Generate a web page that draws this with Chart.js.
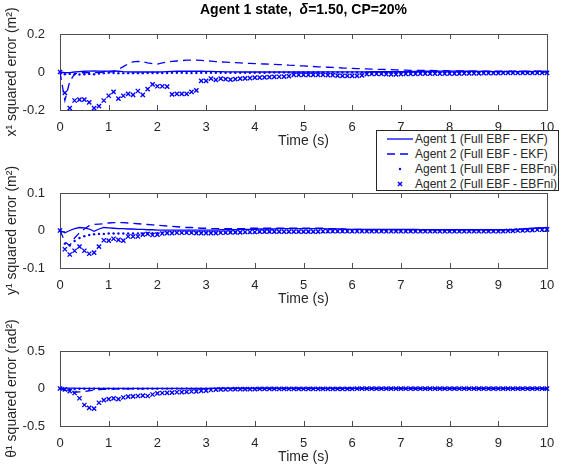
<!DOCTYPE html>
<html>

<head>
    <meta charset="utf-8" />
    <title>Agent 1 state</title>
    <style>
        body { margin: 0; background: #fff; }
        #fig { position: relative; width: 561px; height: 472px; font-family: 'Liberation Sans', Arial, sans-serif; }
        #fig canvas { position: absolute; left: 0; }
        #titulo {
            position: absolute; left: 60px; width: 487px; top: 1px; text-align: center;
            font-size: 14px; font-weight: bold; line-height: 16px; color: #000; z-index: 3;
        }
        #leyenda {
            position: absolute; left: 376px; top: 130px; width: 181px; height: 59px;
            border: 1px solid #262626; background: #fff; z-index: 3;
        }
        .fila {
            position: absolute; left: 10px; height: 15px; display: flex; align-items: center;
            font-size: 12px; color: #262626; white-space: nowrap;
        }
        .fila svg { margin-right: 2px; }
    </style>
</head>

<body>
    <div id="fig">
        <div id="titulo">Agent 1 state,&nbsp; <i>δ</i>=1.50, CP=20%</div>
        <canvas id="c1" width="561" height="155" style="top:0px"></canvas>
        <canvas id="c2" width="561" height="160" style="top:155px"></canvas>
        <canvas id="c3" width="561" height="157" style="top:315px"></canvas>

        <div id="leyenda">
            <div class="fila" style="top:0px">
                <svg width="26" height="14"><line x1="0" y1="7" x2="26" y2="7" stroke="#0000ff" stroke-width="1.3" /></svg>
                <span>Agent 1 (Full EBF - EKF)</span>
            </div>
            <div class="fila" style="top:15px">
                <svg width="26" height="14"><line x1="0" y1="7" x2="26" y2="7" stroke="#0000ff" stroke-width="1.3" stroke-dasharray="8 5" /></svg>
                <span>Agent 2 (Full EBF - EKF)</span>
            </div>
            <div class="fila" style="top:30px">
                <svg width="26" height="14"><circle cx="13" cy="7" r="1.2" fill="#0000ff" /></svg>
                <span>Agent 1 (Full EBF - EBFni)</span>
            </div>
            <div class="fila" style="top:45px">
                <svg width="26" height="14"><path d="M10.9 4.9 L15.1 9.1 M15.1 4.9 L10.9 9.1" stroke="#0000ff" stroke-width="1.4" /></svg>
                <span>Agent 2 (Full EBF - EBFni)</span>
            </div>
        </div>
    </div>

    <script src="https://cdn.jsdelivr.net/npm/chart.js"></script>
    <script type="text/javascript">

        // Tiempo de muestreo: 0 a 10 s cada 0.1 s
        const tiempo = Array.from({ length: 101 }, (_, i) => i / 10);

        // ---- x^1 ----
        const xA1EKF = [0,
            -0.004, -0.003, 0, 0.002, 0.004, 0.005, 0.006, 0.005, 0.004, 0.005,
            0.006, 0.004, 0.002, 0.001, 0, 0, 0, 0, 0, 0,
            0.001, 0.002, 0.003, 0.004, 0.004, 0.004, 0.004, 0.004, 0.004, 0.003,
            0.003, 0.002, 0.002, 0.001, 0.001, 0.001, 0, 0, 0, 0,
            0, 0, 0, 0, 0, 0, 0, 0, 0, 0,
            0, 0, 0, 0.001, 0.001, 0.001, 0.001, 0.001, 0.001, 0.001,
            0.001, 0.001, 0.001, 0.002, 0.002, 0.002, 0.002, 0.002, 0.002, 0.002,
            0.002, 0.003, 0.003, 0.003, 0.004, 0.004, 0.004, 0.005, 0.005, 0.005,
            0.005, 0.005, 0.004, 0.004, 0.004, 0.003, 0.003, 0.003, 0.002, 0.002,
            0.002, 0.002, 0.002, 0.002, 0.002, 0.002, 0.002, 0.003, 0.003, 0.003];
        const xA2EKF = [0,
            -0.15, -0.05, -0.01, -0.004, -0.004, -0.003, -0.003, -0.002, -0.002, -0.001,
            0.002, 0.014, 0.028, 0.043, 0.053, 0.056, 0.054, 0.048, 0.044, 0.042,
            0.048, 0.053, 0.056, 0.058, 0.06, 0.062, 0.063, 0.062, 0.061, 0.059,
            0.057, 0.055, 0.053, 0.052, 0.05, 0.049, 0.048, 0.046, 0.045, 0.044,
            0.043, 0.042, 0.041, 0.04, 0.039, 0.038, 0.036, 0.035, 0.033, 0.032,
            0.03, 0.029, 0.027, 0.026, 0.025, 0.024, 0.023, 0.021, 0.02, 0.019,
            0.018, 0.017, 0.016, 0.015, 0.014, 0.014, 0.013, 0.012, 0.011, 0.01,
            0.01, 0.009, 0.009, 0.008, 0.008, 0.008, 0.007, 0.007, 0.007, 0.006,
            0.006, 0.006, 0.006, 0.005, 0.005, 0.005, 0.005, 0.005, 0.004, 0.004,
            0.004, 0.004, 0.004, 0.004, 0.004, 0.004, 0.004, 0.004, 0.004, 0.004];
        const xA1EBFni = [0,
            -0.012, -0.01, -0.012, -0.013, -0.012, -0.01, -0.012, -0.008, -0.006, -0.004,
            -0.005, -0.006, -0.006, -0.006, -0.006, -0.006, -0.006, -0.005, -0.005, -0.005,
            -0.005, -0.005, -0.004, -0.004, -0.004, -0.005, -0.005, -0.005, -0.004, -0.004,
            -0.004, -0.004, -0.004, -0.004, -0.004, -0.004, -0.004, -0.004, -0.004, -0.004,
            -0.004, -0.004, -0.003, -0.003, -0.003, -0.003, -0.003, -0.003, -0.003, -0.003,
            -0.003, -0.003, -0.003, -0.003, -0.003, -0.003, -0.003, -0.003, -0.003, -0.003,
            -0.003, -0.003, -0.003, -0.003, -0.002, -0.002, -0.002, -0.002, -0.002, -0.002,
            -0.002, -0.002, -0.002, -0.002, -0.002, -0.002, -0.002, -0.002, -0.002, -0.002,
            -0.002, -0.002, -0.002, -0.002, -0.002, -0.002, -0.002, -0.002, -0.002, -0.002,
            -0.002, -0.002, -0.002, -0.002, -0.002, -0.001, -0.001, -0.001, -0.001, -0.001];
        const xA2EBFni = [0,
            -0.11, -0.19, -0.15, -0.145, -0.145, -0.16, -0.19, -0.18, -0.15, -0.125,
            -0.105, -0.14, -0.125, -0.115, -0.12, -0.1, -0.12, -0.09, -0.065, -0.075,
            -0.075, -0.077, -0.118, -0.115, -0.115, -0.115, -0.105, -0.097, -0.047, -0.047,
            -0.035, -0.042, -0.035, -0.038, -0.04, -0.037, -0.035, -0.034, -0.032, -0.03,
            -0.029, -0.028, -0.027, -0.026, -0.025, -0.024, -0.022, -0.015, -0.015, -0.015,
            -0.015, -0.015, -0.015, -0.015, -0.016, -0.017, -0.019, -0.02, -0.02, -0.02,
            -0.02, -0.018, -0.011, -0.01, -0.01, -0.01, -0.011, -0.012, -0.012, -0.011,
            -0.01, -0.01, -0.01, -0.009, -0.009, -0.009, -0.009, -0.008, -0.008, -0.008,
            -0.008, -0.008, -0.007, -0.007, -0.007, -0.007, -0.006, -0.006, -0.006, -0.006,
            -0.005, -0.005, -0.005, -0.005, -0.004, -0.004, -0.004, -0.004, -0.004, -0.004];

        // ---- y^1 ----
        const yA1EKF = [0,
            -0.006, 0, 0.005, 0.008, 0.007, 0.004, -0.002, 0.004, 0.008, 0.007,
            0.006, 0.005, 0.005, 0.004, 0.004, 0.003, 0.003, 0.002, 0.002, 0.001,
            0.001, 0.001, 0.001, 0.001, 0.001, 0.001, 0.001, 0.001, 0.001, 0.001,
            0.001, 0.001, 0.002, 0.002, 0.002, 0.002, 0.003, 0.003, 0.003, 0.003,
            0.004, 0.004, 0.004, 0.004, 0.005, 0.005, 0.005, 0.005, 0.005, 0.005,
            0.005, 0.005, 0.005, 0.005, 0.004, 0.004, 0.004, 0.004, 0.003, 0.003,
            0.003, 0.003, 0.003, 0.003, 0.003, 0.003, 0.003, 0.003, 0.003, 0.003,
            0.003, 0.003, 0.003, 0.002, 0.002, 0.002, 0.002, 0.002, 0.002, 0.002,
            0.002, 0.002, 0.002, 0.002, 0.002, 0.002, 0.002, 0.002, 0.002, 0.002,
            0.002, 0.002, 0.002, 0.003, 0.004, 0.005, 0.006, 0.007, 0.007, 0.008];
        const yA2EKF = [0,
            -0.03, -0.04, -0.02, -0.006, 0.004, 0.013, 0.016, 0.017, 0.018, 0.02,
            0.021, 0.021, 0.021, 0.02, 0.019, 0.018, 0.017, 0.016, 0.015, 0.014,
            0.013, 0.012, 0.011, 0.01, 0.009, 0.008, 0.008, 0.007, 0.006, 0.006,
            0.005, 0.005, 0.005, 0.005, 0.005, 0.005, 0.005, 0.005, 0.006, 0.006,
            0.006, 0.006, 0.006, 0.006, 0.006, 0.006, 0.006, 0.006, 0.006, 0.006,
            0.006, 0.006, 0.006, 0.006, 0.005, 0.005, 0.004, 0.004, 0.003, 0.003,
            0.003, 0.003, 0.002, 0.002, 0.002, 0.002, 0.002, 0.002, 0.002, 0.002,
            0.002, 0.002, 0.002, 0.002, 0.002, 0.002, 0.002, 0.002, 0.002, 0.002,
            0.002, 0.002, 0.002, 0.002, 0.002, 0.002, 0.002, 0.002, 0.002, 0.002,
            0.002, 0.002, 0.002, 0.003, 0.004, 0.005, 0.005, 0.006, 0.006, 0.007];
        const yA1EBFni = [0,
            -0.035, -0.04, -0.028, -0.02, -0.015, -0.012, -0.01, -0.009, -0.009, -0.008,
            -0.008, -0.008, -0.008, -0.008, -0.008, -0.008, -0.008, -0.007, -0.007, -0.007,
            -0.006, -0.006, -0.006, -0.006, -0.006, -0.005, -0.005, -0.005, -0.005, -0.005,
            -0.005, -0.005, -0.005, -0.005, -0.005, -0.005, -0.005, -0.005, -0.005, -0.005,
            -0.004, -0.004, -0.004, -0.004, -0.004, -0.004, -0.004, -0.004, -0.004, -0.004,
            -0.004, -0.004, -0.004, -0.004, -0.004, -0.003, -0.003, -0.003, -0.003, -0.003,
            -0.002, -0.002, -0.002, -0.002, -0.002, -0.002, -0.002, -0.002, -0.002, -0.002,
            -0.002, -0.002, -0.002, -0.002, -0.002, -0.002, -0.002, -0.002, -0.002, -0.002,
            -0.002, -0.002, -0.002, -0.002, -0.002, -0.002, -0.002, -0.002, -0.002, -0.002,
            -0.002, -0.001, -0.001, 0, 0, 0.001, 0.001, 0.002, 0.002, 0.003];
        const yA2EBFni = [0,
            -0.05, -0.064, -0.054, -0.043, -0.054, -0.062, -0.059, -0.043, -0.026, -0.027,
            -0.022, -0.025, -0.027, -0.016, -0.016, -0.016, -0.011, -0.009, -0.012, -0.011,
            -0.008, -0.007, -0.007, -0.006, -0.006, -0.006, -0.006, -0.007, -0.007, -0.007,
            -0.007, -0.007, -0.006, -0.006, -0.005, -0.005, -0.005, -0.004, -0.004, -0.004,
            -0.003, -0.003, -0.003, -0.003, -0.003, -0.003, -0.003, -0.003, -0.003, -0.003,
            -0.003, -0.003, -0.003, -0.002, -0.002, -0.002, -0.002, -0.002, -0.002, -0.002,
            -0.002, -0.002, -0.002, -0.002, -0.002, -0.002, -0.002, -0.002, -0.002, -0.002,
            -0.002, -0.002, -0.002, -0.002, -0.002, -0.002, -0.002, -0.002, -0.002, -0.002,
            -0.002, -0.002, -0.002, -0.002, -0.002, -0.002, -0.002, -0.002, -0.002, -0.002,
            -0.002, -0.001, -0.001, 0, 0, 0.001, 0.001, 0.002, 0.002, 0.003];

        // ---- theta^1 ----
        const tA1EKF = [0,
            0.004, 0.005, 0.004, 0.003, 0.002, 0.002, 0.002, 0.002, 0.002, 0.002,
            0.002, 0.002, 0.002, 0.002, 0.002, 0.002, 0.002, 0.002, 0.002, 0.002,
            0.001, 0.001, 0.001, 0.001, 0.001, 0.001, 0.001, 0.001, 0.001, 0.001,
            0.001, 0.001, 0.001, 0.001, 0.001, 0.001, 0.001, 0.001, 0.001, 0.001,
            0.001, 0.001, 0.001, 0.001, 0.001, 0.001, 0.001, 0.001, 0.001, 0.001,
            0.001, 0.001, 0.001, 0.001, 0.001, 0.001, 0.001, 0.001, 0.001, 0.001,
            0.001, 0.001, 0.001, 0.001, 0.001, 0.001, 0.001, 0.001, 0.001, 0.001,
            0.001, 0.001, 0.001, 0.001, 0.001, 0.001, 0.001, 0.001, 0.001, 0.001,
            0.001, 0.001, 0.001, 0.001, 0.001, 0.001, 0.001, 0.001, 0.001, 0.001,
            0.001, 0.001, 0.001, 0.001, 0.001, 0.001, 0.001, 0.001, 0.001, 0.001];
        const tA2EKF = [0,
            -0.02, -0.04, -0.05, -0.046, -0.042, -0.03, -0.02, -0.016, -0.012, -0.009,
            -0.007, -0.006, -0.005, -0.004, -0.004, -0.003, -0.003, -0.002, -0.002, -0.002,
            -0.001, -0.001, -0.001, -0.001, -0.001, -0.001, -0.001, -0.001, -0.001, -0.001,
            -0.001, -0.001, -0.001, -0.001, -0.001, 0, 0, 0, 0, 0,
            0, 0, 0, 0, 0, 0, 0, 0, 0, 0,
            0, 0, 0, 0, 0, 0, 0, 0, 0, 0,
            0, 0, 0, 0, 0, 0, 0, 0, 0, 0,
            0, 0, 0, 0, 0, 0, 0, 0, 0, 0,
            0, 0, 0, 0, 0, 0, 0, 0, 0, 0,
            0, 0, 0, 0, 0, 0, 0, 0, 0, 0];
        const tA1EBFni = [0,
            -0.02, -0.012, -0.006, -0.004, -0.003, -0.003, -0.003, -0.002, -0.002, -0.002,
            -0.002, -0.002, -0.002, -0.002, -0.002, -0.002, -0.002, -0.002, -0.002, -0.002,
            -0.001, -0.001, -0.001, -0.001, -0.001, -0.001, -0.001, -0.001, -0.001, -0.001,
            -0.001, -0.001, -0.001, -0.001, -0.001, -0.001, -0.001, -0.001, -0.001, -0.001,
            -0.001, -0.001, -0.001, -0.001, -0.001, -0.001, -0.001, -0.001, -0.001, -0.001,
            -0.001, -0.001, -0.001, -0.001, -0.001, -0.001, -0.001, -0.001, -0.001, -0.001,
            -0.001, -0.001, -0.001, -0.001, -0.001, -0.001, -0.001, -0.001, -0.001, -0.001,
            -0.001, -0.001, -0.001, -0.001, -0.001, -0.001, -0.001, -0.001, -0.001, -0.001,
            -0.001, -0.001, -0.001, -0.001, -0.001, -0.001, -0.001, -0.001, -0.001, -0.001,
            -0.001, -0.001, -0.001, -0.001, -0.001, -0.001, -0.001, -0.001, -0.001, -0.001];
        const tA2EBFni = [0,
            -0.012, -0.035, -0.06, -0.13, -0.22, -0.258, -0.267, -0.19, -0.156, -0.142,
            -0.133, -0.142, -0.12, -0.107, -0.104, -0.1, -0.095, -0.1, -0.08, -0.066,
            -0.06, -0.057, -0.054, -0.05, -0.047, -0.044, -0.04, -0.037, -0.033, -0.028,
            -0.02, -0.016, -0.013, -0.011, -0.01, -0.009, -0.008, -0.008, -0.007, -0.007,
            -0.006, -0.006, -0.006, -0.005, -0.005, -0.005, -0.005, -0.004, -0.004, -0.004,
            -0.004, -0.004, -0.004, -0.004, -0.004, -0.004, -0.004, -0.004, -0.004, -0.004,
            -0.003, -0.003, -0.003, -0.003, -0.003, -0.003, -0.003, -0.003, -0.003, -0.003,
            -0.003, -0.003, -0.003, -0.003, -0.003, -0.003, -0.003, -0.003, -0.003, -0.003,
            -0.002, -0.002, -0.002, -0.002, -0.002, -0.002, -0.002, -0.002, -0.002, -0.002,
            -0.002, -0.002, -0.002, -0.002, -0.002, -0.002, -0.002, -0.002, -0.002, -0.002];

        const nombres = ['Agent 1 (Full EBF - EKF)', 'Agent 2 (Full EBF - EKF)',
            'Agent 1 (Full EBF - EBFni)', 'Agent 2 (Full EBF - EBFni)'];

        const AZUL = '#0000ff';
        const TEXTO = '#262626';
        const FUENTE = "'Liberation Sans', Arial, sans-serif";

        // Caja de los ejes con marcas hacia adentro (estilo MATLAB)
        const marco = {
            id: 'marco',
            beforeDatasetsDraw(chart) {
                const { ctx, chartArea: a, scales: { x, y } } = chart;
                ctx.save();
                ctx.strokeStyle = '#4d4d4d';
                ctx.lineWidth = 1;
                ctx.strokeRect(Math.round(a.left) + 0.5, Math.round(a.top) + 0.5,
                    Math.round(a.width), Math.round(a.height));
                ctx.beginPath();
                x.ticks.forEach(t => {
                    const px = Math.round(x.getPixelForValue(t.value)) + 0.5;
                    ctx.moveTo(px, a.bottom); ctx.lineTo(px, a.bottom - 5);
                    ctx.moveTo(px, a.top); ctx.lineTo(px, a.top + 5);
                });
                y.ticks.forEach(t => {
                    const py = Math.round(y.getPixelForValue(t.value)) + 0.5;
                    ctx.moveTo(a.left, py); ctx.lineTo(a.left + 5, py);
                    ctx.moveTo(a.right, py); ctx.lineTo(a.right - 5, py);
                });
                ctx.stroke();
                ctx.restore();
            }
        };

        function serie(valores) {
            return valores.map((v, i) => ({ x: tiempo[i], y: v }));
        }

        function crearGrafica(id, datos, lim, paso, tituloY, arriba, abajo) {
            return new Chart(document.getElementById(id), {
                type: 'line',
                data: {
                    datasets: [
                        { label: nombres[0], data: serie(datos[0]), borderColor: AZUL, borderWidth: 1.3, pointRadius: 0, order: 4 },
                        { label: nombres[1], data: serie(datos[1]), borderColor: AZUL, borderWidth: 1.3, borderDash: [8, 5], pointRadius: 0, order: 3 },
                        { label: nombres[2], data: serie(datos[2]), showLine: false, pointStyle: 'circle', pointRadius: 1.2, pointBackgroundColor: AZUL, pointBorderWidth: 0, order: 2 },
                        { label: nombres[3], data: serie(datos[3]), showLine: false, pointStyle: 'crossRot', pointRadius: 3, pointBorderColor: AZUL, pointBorderWidth: 1.4, order: 1 }
                    ]
                },
                options: {
                    responsive: false,
                    animation: false,
                    devicePixelRatio: 1,
                    clip: 8,
                    elements: { line: { tension: 0 } },
                    layout: { padding: { top: arriba, bottom: abajo, left: 0, right: 14 } },
                    plugins: { legend: { display: false }, tooltip: { enabled: false } },
                    scales: {
                        x: {
                            type: 'linear', min: 0, max: 10,
                            ticks: { stepSize: 1, padding: 2, maxRotation: 0, autoSkip: false, color: TEXTO, font: { family: FUENTE, size: 13 } },
                            grid: { display: false }, border: { display: false },
                            title: { display: true, text: 'Time (s)', color: TEXTO, font: { family: FUENTE, size: 14 }, padding: { top: 4, bottom: 5 } },
                            afterFit: s => { s.height = 45; }
                        },
                        y: {
                            min: -lim, max: lim,
                            ticks: { stepSize: paso, padding: 7, color: TEXTO, font: { family: FUENTE, size: 13 } },
                            grid: { display: false }, border: { display: false },
                            title: { display: true, text: tituloY, color: TEXTO, font: { family: FUENTE, size: 14 }, padding: { top: 4, bottom: 0 } },
                            afterFit: s => { s.width = 60; }
                        }
                    }
                },
                plugins: [marco]
            });
        }

        crearGrafica('c1', [xA1EKF, xA2EKF, xA1EBFni, xA2EBFni], 0.2, 0.2, 'x¹ squared error (m²)', 34, 0);
        crearGrafica('c2', [yA1EKF, yA2EKF, yA1EBFni, yA2EBFni], 0.1, 0.1, 'y¹ squared error (m²)', 38, 2);
        crearGrafica('c3', [tA1EKF, tA2EKF, tA1EBFni, tA2EBFni], 0.5, 0.5, 'θ¹ squared error (rad²)', 36, 1);

    </script>
</body>

</html>
